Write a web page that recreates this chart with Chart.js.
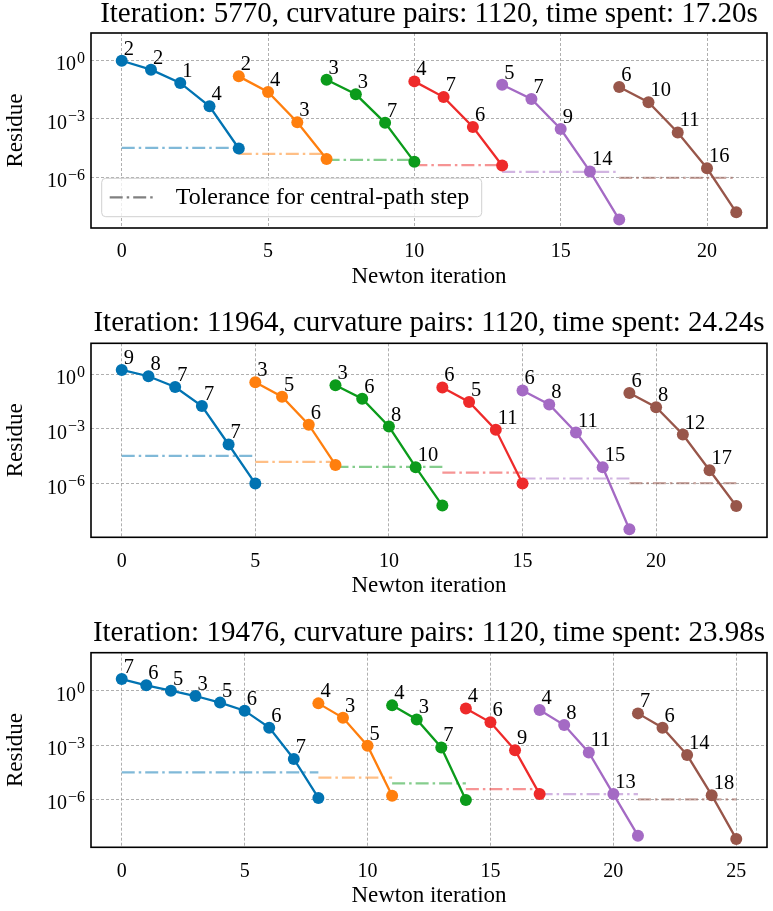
<!DOCTYPE html>
<html lang="en">
<head>
    <meta charset="UTF-8">
    <title>Newton iterations per central-path step</title>
    <script src="https://cdn.jsdelivr.net/npm/chart.js"></script>
    <style>
        body { margin: 0; background: #fff; }
        canvas { position: absolute; left: 0; }
    </style>
</head>
<body>
    <canvas id="panel1" width="773" height="300" style="top:0"></canvas>
    <canvas id="panel2" width="773" height="310" style="top:300px"></canvas>
    <canvas id="panel3" width="773" height="301" style="top:610px"></canvas>

    <script>
        const panelTitles = [
            "Iteration: 5770, curvature pairs: 1120, time spent: 17.20s",
            "Iteration: 11964, curvature pairs: 1120, time spent: 24.24s",
            "Iteration: 19476, curvature pairs: 1120, time spent: 23.98s"
        ];
        const seriesColors = ["#0173b2", "#ff7f0e", "#0b9b1b", "#ee2a2a", "#a46ac4", "#98564a"];
        const toleranceLabel = "Tolerance for central-path step";
        const xTicks = [[0, 5, 10, 15, 20], [0, 5, 10, 15, 20], [0, 5, 10, 15, 20, 25]];
        const yTicks = [1e-6, 1e-3, 1];

        // panel 1 (iteration 5770)
        const p1Start = [0, 4, 7, 10, 13, 17];
        const p1Residue = [
            [0.95, 0.33, 6.9e-2, 4.4e-3, 3.0e-5],
            [0.15, 2.4e-2, 6.6e-4, 8.7e-6],
            [0.10, 1.8e-2, 6.2e-4, 6.2e-6],
            [8.3e-2, 1.3e-2, 3.8e-4, 4.0e-6],
            [5.6e-2, 1.05e-2, 3.0e-4, 2.0e-6, 6.8e-9],
            [4.3e-2, 7.1e-3, 2.0e-4, 2.9e-6, 1.6e-8]
        ];
        const p1Steps = [[2, 2, 1, 4], [2, 4, 3], [3, 3, 7], [4, 7, 6], [5, 7, 9, 14], [6, 10, 11, 16]];
        const p1Tol = [3.2e-5, 1.6e-5, 7.8e-6, 4.2e-6, 1.9e-6, 9.3e-7];

        // panel 2 (iteration 11964)
        const p2Start = [0, 5, 8, 12, 15, 19];
        const p2Residue = [
            [1.74, 0.78, 0.20, 1.8e-2, 1.4e-4, 1.0e-6],
            [0.36, 5.8e-2, 1.7e-3, 1.05e-5],
            [0.25, 4.5e-2, 1.35e-3, 7.9e-6, 6.2e-8],
            [0.19, 3.0e-2, 8.9e-4, 1.0e-6],
            [0.13, 2.2e-2, 6.3e-4, 7.9e-6, 3.1e-9],
            [9.5e-2, 1.55e-2, 4.9e-4, 5.4e-6, 5.9e-8]
        ];
        const p2Steps = [[9, 8, 7, 7, 7], [3, 5, 6], [3, 6, 8, 10], [6, 5, 11], [6, 8, 11, 15], [6, 8, 12, 17]];
        const p2Tol = [3.3e-5, 1.55e-5, 8.3e-6, 4.0e-6, 1.9e-6, 1.05e-6];

        // panel 3 (iteration 19476)
        const p3Start = [0, 8, 11, 14, 17, 21];
        const p3Residue = [
            [4.4, 2.0, 1.0, 0.51, 0.22, 7.9e-2, 9.1e-3, 1.7e-4, 1.2e-6],
            [0.20, 3.2e-2, 9.1e-4, 1.6e-6],
            [0.155, 2.6e-2, 7.4e-4, 9.1e-7],
            [0.105, 1.8e-2, 5.2e-4, 1.95e-6],
            [8.5e-2, 1.26e-2, 3.9e-4, 1.95e-6, 9.8e-9],
            [5.6e-2, 9.1e-3, 2.8e-4, 1.7e-6, 6.5e-9]
        ];
        const p3Steps = [[7, 6, 5, 3, 5, 6, 6, 7], [4, 3, 5], [4, 3, 7], [4, 6, 9], [4, 8, 11, 13], [7, 6, 14, 18]];
        const p3Tol = [3.1e-5, 1.6e-5, 7.6e-6, 3.7e-6, 1.95e-6, 1.0e-6];

        const xLimits = [[-1.05, 22.05], [-1.15, 24.15], [-1.25, 26.25]];
        const yLimits = [[10 ** -8.6, 10 ** 1.4], [10 ** -8.95, 10 ** 1.7], [10 ** -8.65, 10 ** 2.1]];

        // per-panel spacing so the three axes line up like the subplots
        const panelLayout = [
            { titleTop: 0, titleBottom: 4, xHeight: 72, xTitleBottom: 12 },
            { titleTop: 9.3, titleBottom: 5, xHeight: 72.7, xTitleBottom: 12.7 },
            { titleTop: 9.3, titleBottom: 4.4, xHeight: 63.7, xTitleBottom: 3.7 }
        ];

        const FONT = "'Liberation Serif', 'Times New Roman', serif";
        Chart.defaults.font.family = FONT;
        Chart.defaults.color = "#000";

        const framePlugin = {
            id: "frame",
            beforeDatasetsDraw(chart) {
                const { ctx, chartArea: a } = chart;
                ctx.save();
                ctx.strokeStyle = "#000";
                ctx.lineWidth = 1.6;
                ctx.strokeRect(a.left, a.top, a.right - a.left, a.bottom - a.top);
                ctx.restore();
            }
        };

        // y tick labels as 10 with a raised exponent
        const powerTicks = {
            id: "powerTicks",
            afterDraw(chart) {
                const ctx = chart.ctx;
                const y = chart.scales.y;
                ctx.save();
                ctx.fillStyle = "#000";
                ctx.textAlign = "left";
                ctx.textBaseline = "alphabetic";
                y.ticks.forEach(t => {
                    const e = Math.round(Math.log10(t.value));
                    const exp = e < 0 ? "\u2212" + (-e) : String(e);
                    const py = y.getPixelForValue(t.value);
                    ctx.font = "20px " + FONT;
                    const wBase = ctx.measureText("10").width;
                    ctx.font = "16px " + FONT;
                    const wExp = ctx.measureText(exp).width;
                    const x0 = chart.chartArea.left - 6 - wExp - 1 - wBase;
                    ctx.font = "20px " + FONT;
                    ctx.fillText("10", x0, py + 10);
                    ctx.font = "16px " + FONT;
                    ctx.fillText(exp, x0 + wBase + 1, py + 2.5);
                });
                ctx.restore();
            }
        };

        // inner iteration counts written next to each point
        const stepLabels = {
            id: "stepLabels",
            afterDatasetsDraw(chart) {
                const ctx = chart.ctx;
                ctx.save();
                ctx.font = "20.5px " + FONT;
                ctx.fillStyle = "#000";
                ctx.textAlign = "left";
                ctx.textBaseline = "alphabetic";
                chart.data.datasets.forEach((ds, i) => {
                    if (!ds.steps) return;
                    chart.getDatasetMeta(i).data.forEach((pt, j) => {
                        if (j < ds.steps.length) ctx.fillText(ds.steps[j], pt.x + 2, pt.y - 6);
                    });
                });
                ctx.restore();
            }
        };

        const toleranceLegend = {
            id: "toleranceLegend",
            afterDraw(chart, args, opts) {
                if (!opts.show) return;
                const { ctx, chartArea: a } = chart;
                const x = a.left + 10.7, y = a.bottom - 49.7, w = 380, h = 38.4;
                ctx.save();
                ctx.beginPath();
                ctx.roundRect(x, y, w, h, 4);
                ctx.fillStyle = "rgba(255,255,255,0.8)";
                ctx.fill();
                ctx.strokeStyle = "#d0d0d0";
                ctx.lineWidth = 1;
                ctx.stroke();
                ctx.beginPath();
                ctx.setLineDash([13, 4, 2.5, 4]);
                ctx.strokeStyle = "#808080";
                ctx.lineWidth = 2.2;
                ctx.moveTo(x + 8, y + 19);
                ctx.lineTo(x + 53, y + 19);
                ctx.stroke();
                ctx.setLineDash([]);
                ctx.fillStyle = "#000";
                ctx.font = "24px " + FONT;
                ctx.textBaseline = "middle";
                ctx.fillText(toleranceLabel, x + 74, y + 19.5);
                ctx.restore();
            }
        };

        function gridOpts() {
            return { color: "#9a9a9a", lineWidth: 0.8, drawTicks: false };
        }

        function buildPanel(id, k, start, residue, steps, tol) {
            const L = panelLayout[k];
            const datasets = [];
            residue.forEach((vals, s) => {
                const c = seriesColors[s];
                datasets.push({
                    data: vals.map((v, i) => ({ x: start[s] + i, y: v })),
                    steps: steps[s],
                    borderColor: c,
                    backgroundColor: c,
                    borderWidth: 2.3,
                    pointRadius: 6,
                    pointBorderWidth: 0,
                    pointBackgroundColor: c,
                    order: 0
                });
                datasets.push({
                    data: [{ x: start[s], y: tol[s] }, { x: start[s] + vals.length - 1, y: tol[s] }],
                    borderColor: c + "80",
                    borderWidth: 2.2,
                    borderDash: [13, 4, 2.5, 4],
                    pointRadius: 0,
                    order: 1
                });
            });

            new Chart(document.getElementById(id), {
                type: "line",
                data: { datasets: datasets },
                options: {
                    responsive: false,
                    animation: false,
                    layout: { padding: { left: 0, right: 1, top: 0, bottom: 0 } },
                    plugins: {
                        legend: { display: false },
                        tooltip: { enabled: false },
                        title: {
                            display: true,
                            text: panelTitles[k],
                            fullSize: false,
                            color: "#000",
                            font: { size: 29, weight: "normal", lineHeight: 1 },
                            padding: { top: L.titleTop, bottom: L.titleBottom }
                        },
                        toleranceLegend: { show: k === 0 }
                    },
                    scales: {
                        x: {
                            type: "linear",
                            min: xLimits[k][0],
                            max: xLimits[k][1],
                            afterBuildTicks: s => { s.ticks = xTicks[k].map(v => ({ value: v })); },
                            afterFit: s => { s.height = L.xHeight; },
                            ticks: { font: { size: 20 }, padding: 12, color: "#000" },
                            grid: gridOpts(),
                            border: { display: false, dash: [3, 2] },
                            title: {
                                display: true,
                                text: "Newton iteration",
                                font: { size: 23, lineHeight: 1 },
                                padding: { top: 0, bottom: L.xTitleBottom }
                            }
                        },
                        y: {
                            type: "logarithmic",
                            min: yLimits[k][0],
                            max: yLimits[k][1],
                            afterBuildTicks: s => { s.ticks = yTicks.map(v => ({ value: v })); },
                            afterFit: s => { s.width = 91; },
                            ticks: { display: false },
                            grid: gridOpts(),
                            border: { display: false, dash: [3, 2] },
                            title: {
                                display: true,
                                text: "Residue",
                                font: { size: 23, lineHeight: 1 },
                                padding: { top: 4.5, bottom: 0 }
                            }
                        }
                    }
                },
                plugins: [framePlugin, powerTicks, stepLabels, toleranceLegend]
            });
        }

        buildPanel("panel1", 0, p1Start, p1Residue, p1Steps, p1Tol);
        buildPanel("panel2", 1, p2Start, p2Residue, p2Steps, p2Tol);
        buildPanel("panel3", 2, p3Start, p3Residue, p3Steps, p3Tol);
    </script>
</body>
</html>
